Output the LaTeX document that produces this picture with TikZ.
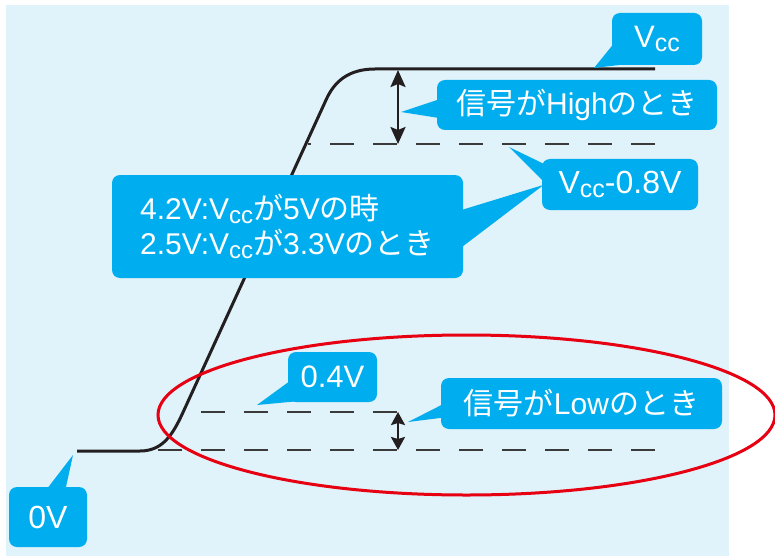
\documentclass[tikz,border=0pt]{standalone}
\usepackage{fontspec}
\setmainfont{Liberation Sans}
\newfontfamily\jp{Noto Sans CJK JP}
\usetikzlibrary{arrows.meta,calc}
\definecolor{bgblue}{HTML}{E0F2FA}
\definecolor{callblue}{HTML}{00AEEF}
\definecolor{ink}{HTML}{231F20}
\definecolor{dashink}{HTML}{3A3A3A}
\definecolor{ringred}{HTML}{E60012}
\newcommand{\ccsub}[1]{\raisebox{-0.12em}{\fontsize{#1}{#1}\selectfont cc}}
\begin{document}
\begin{tikzpicture}[x=1pt,y=-1pt,
  callout/.style={fill=callblue, rounded corners=8pt, text=white, inner sep=0pt,
    font=\fontsize{30}{33}\selectfont},
  wedge/.style={fill=callblue},
  dashline/.style={draw=dashink, line width=1.4pt, dash pattern=on 24pt off 19pt},
  signal/.style={draw=ink, line width=3pt},
  dimarrow/.style={draw=ink, line width=2.4pt,
    {Stealth[length=17pt,width=15pt,inset=3pt]}-{Stealth[length=17pt,width=15pt,inset=3pt]}},
  dimarrowsmall/.style={draw=ink, line width=2.4pt,
    {Stealth[length=13pt,width=14pt,inset=2pt]}-{Stealth[length=13pt,width=14pt,inset=2pt]}},
  ring/.style={draw=ringred, line width=3pt}
]
\useasboundingbox (0,0) rectangle (775,556);
\fill[bgblue] (6,5) rectangle (729,556);

% dashed levels
\draw[dashline, dash phase=21pt] (308,144) -- (655,144);
\draw[dashline] (158,450) -- (655,450);
\draw[dashline] (201,412) -- (398,412);

% signal
\draw[signal] (77,451) -- (140,451) .. controls (165,451) and (174.5,431) .. (185,408)
  -- (326,100) .. controls (334,82) and (348,69) .. (375,69) -- (655,69);

% dimension arrows
\coordinate (hiTop) at (398,70);
\coordinate (hiBot) at (398,144);
\coordinate (loTop) at (398,412);
\coordinate (loBot) at (398,450);
\draw[dimarrow] (hiTop) -- (hiBot);
\draw[dimarrowsmall] (loTop) -- (loBot);

% callouts
\node[callout, minimum width=90pt, minimum height=52pt, font=\fontsize{31}{34}\selectfont] (vcc) at (657,39) {V\ccsub{25}};
\coordinate (tVcc) at (594,68);
\fill[wedge] ([xshift=1pt,yshift=-32pt]vcc.north west) -- (tVcc) -- ([xshift=14pt,yshift=1pt]vcc.south west) -- cycle;

\node[callout, minimum width=280pt, minimum height=50pt] (high) at (577,105) {{\jp 信号が}High{\jp のとき}};
\coordinate (tHigh) at (401,112);
\fill[wedge] ([xshift=1pt,yshift=-20pt]high.north west) -- (tHigh) -- ([xshift=1pt,yshift=-38pt]high.north west) -- cycle;

\node[callout, minimum width=156pt, minimum height=51pt, font=\fontsize{32}{35}\selectfont] (v08) at (620,184.5) {V\ccsub{25}-0.8V};
\coordinate (tV08) at (509,147);
\fill[wedge] ([xshift=6pt,yshift=-7pt]v08.north west) -- (tV08) -- ([xshift=4pt,yshift=-25pt]v08.north west) -- cycle;

\node[callout, minimum width=351pt, minimum height=103pt, align=left,
  font=\fontsize{30}{35}\selectfont] (note) at (287.5,226.5)
  {4.2V:V\ccsub{24}{\jp が}5V{\jp の時}\\2.5V:V\ccsub{24}{\jp が}3.3V{\jp のとき}};
\coordinate (tNote) at ([xshift=2pt,yshift=-26pt]v08.north west);
\fill[wedge] ([xshift=-1pt,yshift=-35pt]note.north east) -- (tNote) -- ([xshift=-1pt,yshift=-72pt]note.north east) -- cycle;

\node[callout, minimum width=89pt, minimum height=50pt, font=\fontsize{31}{34}\selectfont] (p04) at (332.5,377) {0.4V};
\coordinate (tP04) at (257,405);
\fill[wedge] ([xshift=1pt,yshift=-30pt]p04.north west) -- (tP04) -- ([xshift=10pt,yshift=1pt]p04.south west) -- cycle;

\node[callout, minimum width=281pt, minimum height=51pt] (low) at (581.5,403.5) {{\jp 信号が}Low{\jp のとき}};
\coordinate (tLow) at (408,422);
\fill[wedge] ([xshift=1pt,yshift=-27pt]low.north west) -- (tLow) -- ([xshift=1pt,yshift=-40pt]low.north west) -- cycle;

\node[callout, minimum width=78pt, minimum height=60pt, font=\fontsize{32}{35}\selectfont] (zero) at (48,517) {0V};
\coordinate (tZero) at (73,455);
\fill[wedge] ([xshift=39pt,yshift=-1pt]zero.north west) -- (tZero) -- ([xshift=57pt,yshift=-1pt]zero.north west) -- cycle;

% red ring
\draw[ring] (466.5,415) ellipse [x radius=308.5, y radius=80];
\end{tikzpicture}
\end{document}
